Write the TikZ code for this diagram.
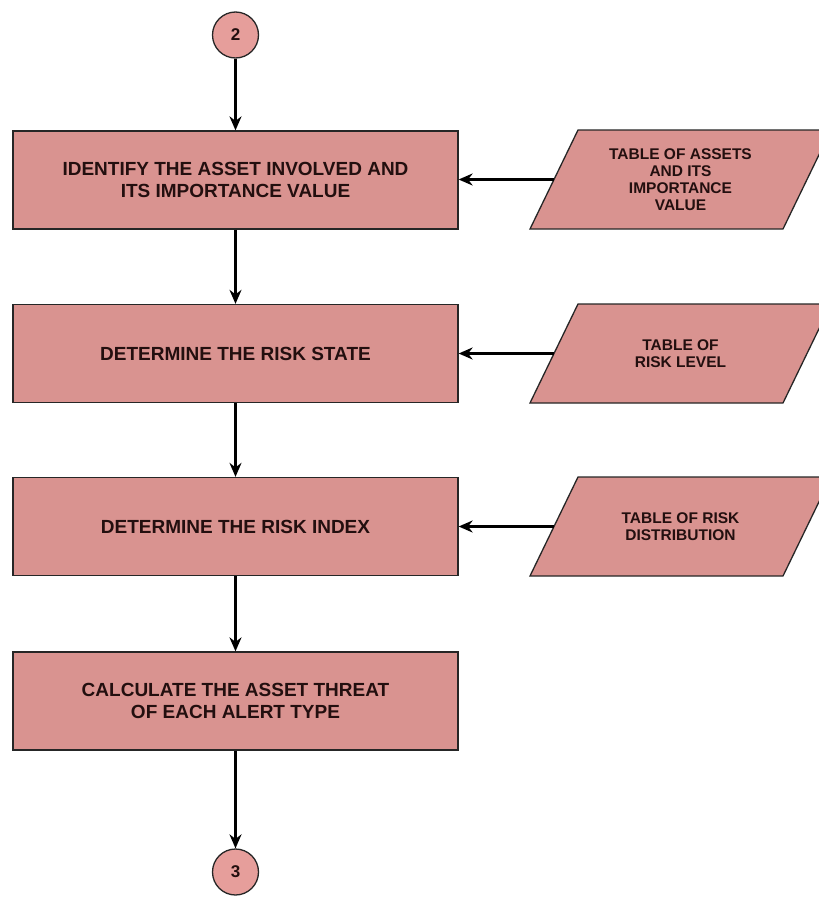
\documentclass[tikz,border=0pt]{standalone}
\usepackage{fontspec}
\setmainfont{Liberation Sans}
\usetikzlibrary{arrows.meta,calc}
\definecolor{boxfill}{RGB}{217,147,144}
\definecolor{circfill}{RGB}{230,158,155}
\definecolor{txt}{RGB}{35,15,15}
\tikzset{
  procbox/.style={draw=black!85, line width=1.3pt, fill=boxfill, minimum width=445pt, minimum height=98pt, inner sep=0pt, align=center, text=txt, font=\bfseries\fontsize{19}{22}\selectfont},
  datatext/.style={inner sep=0pt, align=center, text=txt, font=\bfseries\fontsize{15.5}{17}\selectfont},
  datashape/.style={draw=black!85, line width=1.3pt, fill=boxfill},
  conn/.style={draw=black!85, line width=1.3pt, fill=circfill, circle, minimum size=46pt, inner sep=0pt, text=txt, font=\bfseries\fontsize{17}{18}\selectfont},
  arr/.style={line width=2.2pt, -{Stealth[length=14pt,width=12pt]}}
}
\newcommand{\paral}[3]{% name, center, text
  \path[datashape] ($(#2)+(-150.5,49.5)$) -- ($(#2)+(-102.5,-49.5)$) -- ($(#2)+(150.5,-49.5)$) -- ($(#2)+(102.5,49.5)$) -- cycle;
  \coordinate (#1w) at ($(#2)+(-126.5,0)$);
  \node[datatext] (#1) at (#2) {#3};
}
\begin{document}
\begin{tikzpicture}[x=1pt,y=-1pt]
\useasboundingbox (0,0) rectangle (819,897);
\node[conn] (c2) at (235.5,35) {2};
\node[procbox] (b1) at (235.5,180) {IDENTIFY THE ASSET INVOLVED AND\\ITS IMPORTANCE VALUE};
\node[procbox] (b2) at (235.5,353.5) {DETERMINE THE RISK STATE};
\node[procbox] (b3) at (235.5,526.5) {DETERMINE THE RISK INDEX};
\node[procbox] (b4) at (235.5,701) {CALCULATE THE ASSET THREAT\\OF EACH ALERT TYPE};
\node[conn] (c3) at (235.5,872) {3};
\paral{p1}{680.5,179.5}{TABLE OF ASSETS\\AND ITS\\IMPORTANCE\\VALUE}
\paral{p2}{680.5,353.5}{TABLE OF\\RISK LEVEL}
\paral{p3}{680.5,526.5}{TABLE OF RISK\\DISTRIBUTION}
\draw[arr] (c2) -- (b1);
\draw[arr] (b1) -- (b2);
\draw[arr] (b2) -- (b3);
\draw[arr] (b3) -- (b4);
\draw[arr] (b4) -- (c3);
\draw[arr] (p1w) -- (p1w -| b1.east);
\draw[arr] (p2w) -- (p2w -| b2.east);
\draw[arr] (p3w) -- (p3w -| b3.east);
\end{tikzpicture}
\end{document}
